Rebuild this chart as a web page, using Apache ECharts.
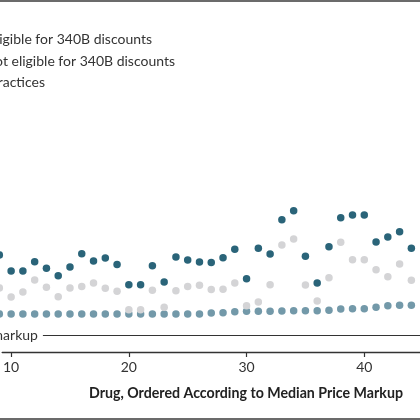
<!DOCTYPE html>
<html><head><meta charset="utf-8">
<script src="https://cdn.jsdelivr.net/npm/echarts@6/dist/echarts.min.js"></script>
<style>html,body{margin:0;padding:0;background:#fff}#c{width:420px;height:420px}</style>
</head><body><div id="c"></div>
<script>
const drugs = [9,10,11,12,13,14,15,16,17,18,19,20,21,22,23,24,25,26,27,28,29,30,31,32,33,34,35,36,37,38,39,40,41,42,43,44];
const eligible340B = [5.71,4.76,4.76,5.31,4.92,4.49,5.00,5.78,5.35,5.53,5.14,3.96,3.96,5.08,4.12,5.59,5.41,5.29,5.26,5.55,6.04,4.31,6.10,5.76,7.78,8.31,5.63,4.06,6.19,7.90,8.06,8.06,6.47,6.76,7.08,6.10];
const notEligible340B = [3.76,3.24,3.53,4.24,3.81,3.25,3.76,3.86,4.06,3.75,3.57,2.49,2.49,3.63,2.63,3.61,3.86,3.92,3.68,3.69,4.06,2.72,2.94,3.96,6.29,6.65,3.94,3.00,4.37,6.45,5.43,5.43,4.84,4.43,5.18,4.22];
const practices = [2.24,2.24,2.24,2.24,2.24,2.24,2.24,2.24,2.24,2.24,2.24,2.24,2.24,2.24,2.24,2.24,2.24,2.24,2.29,2.31,2.37,2.39,2.39,2.39,2.41,2.43,2.43,2.43,2.45,2.53,2.55,2.55,2.63,2.72,2.75,2.75];
const xTicks = [10,20,30,40];
const legendLabels = ["Hospitals eligible for 340B discounts","Hospitals not eligible for 340B discounts","Physician practices"];
const noMarkupValue = 1;
const noMarkupLabel = "No markup";
const xTitle = "Drug, Ordered According to Median Price Markup";

const pts = arr => drugs.map((d,i)=>[d,arr[i]]);
const FONT = "Lato";
const chart = echarts.init(document.getElementById('c'), null, {renderer:'canvas'});
chart.setOption({
  animation:false,
  grid:{left:0, right:0, top:12, bottom:68, containLabel:false},
  xAxis:{type:'value', min:9.2394, max:44.733,
    axisLine:{show:true, lineStyle:{color:'#333', width:1.3}},
    axisTick:{show:true, length:5, customValues:xTicks, lineStyle:{color:'#333', width:1.2}},
    axisLabel:{color:'#333', fontFamily:FONT, fontSize:14, margin:8, customValues:xTicks},
    splitLine:{show:false}},
  yAxis:{type:'value', min:0, max:20, show:false},
  series:[
    {name:legendLabels[2], type:'scatter', data:pts(practices), symbolSize:7.5, clip:false,
     itemStyle:{color:'#7399a9', opacity:1},
     markLine:{silent:true, symbol:['none','none'],
       lineStyle:{color:'#333', width:1.1, type:'solid'},
       label:{show:true, position:'start', formatter:noMarkupLabel, color:'#333', fontFamily:FONT, fontSize:14, distance:5},
       data:[[{coord:[12.7,noMarkupValue]},{coord:[44.733,noMarkupValue]}]]}},
    {name:legendLabels[1], type:'scatter', data:pts(notEligible340B), symbolSize:7.5, clip:false,
     itemStyle:{color:'#d4d4d6', opacity:1}},
    {name:legendLabels[0], type:'scatter', data:pts(eligible340B), symbolSize:7.5, clip:false,
     itemStyle:{color:'#2a6479', opacity:1}}
  ],
  graphic:[
    {type:'rect', shape:{x:0,y:0,width:420,height:2}, style:{fill:'#6b6b6b'}},
    {type:'rect', shape:{x:0,y:418,width:420,height:2}, style:{fill:'#6b6b6b'}},
    {type:'text', x:152, y:39, style:{text:legendLabels[0], fill:'#333', font:'14px Lato', textAlign:'right', textVerticalAlign:'middle'}},
    {type:'text', x:175, y:61, style:{text:legendLabels[1], fill:'#333', font:'14px Lato', textAlign:'right', textVerticalAlign:'middle'}},
    {type:'text', x:45, y:82, style:{text:legendLabels[2], fill:'#333', font:'14px Lato', textAlign:'right', textVerticalAlign:'middle'}},
    {type:'text', x:246, y:393, style:{text:xTitle, fill:'#222', font:'bold 14.2px Lato', textAlign:'center', textVerticalAlign:'middle'}}
  ]
});
</script></body></html>
